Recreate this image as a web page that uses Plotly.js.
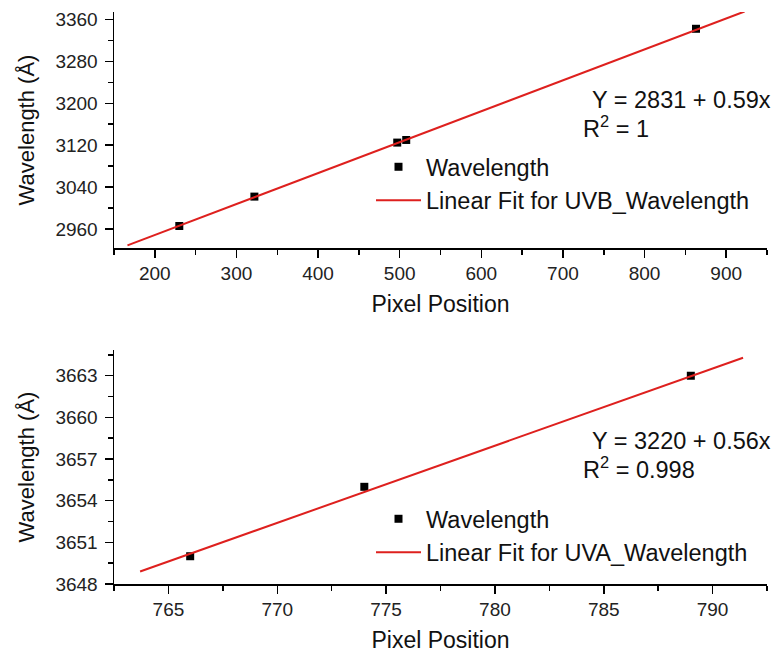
<!DOCTYPE html>
<html>
<head>
<meta charset="utf-8">
<script src="https://cdn.plot.ly/plotly-3.0.1.min.js"></script>
<style>html,body{margin:0;padding:0;background:#fff;}#chart{width:774px;height:654px;}</style>
</head>
<body>
<div id="chart"></div>
<script>
// UVB calibration (top panel)
const uvbPixel = [230, 322, 497, 508, 863];
const uvbWavelength = [2966, 3022, 3125, 3130, 3342];
const uvbFitPixel = [166.5, 922.5];
const uvbFitWavelength = [2929, 3375];

// UVA calibration (bottom panel)
const uvaPixel = [766, 774, 789];
const uvaWavelength = [3650, 3655, 3663];
const uvaFitPixel = [763.7, 791.4];
const uvaFitWavelength = [3648.9, 3664.3];

const FONT = 'Liberation Sans, Arial, sans-serif';
const RED = 'rgb(222,32,30)';

const traces = [
  {x: uvbPixel, y: uvbWavelength, type: 'scatter', mode: 'markers', name: 'Wavelength',
   marker: {symbol: 'square', size: 8, color: '#000'}, xaxis: 'x', yaxis: 'y', legend: 'legend'},
  {x: uvbFitPixel, y: uvbFitWavelength, type: 'scatter', mode: 'lines', name: 'Linear Fit for UVB_Wavelength',
   line: {color: RED, width: 2}, xaxis: 'x', yaxis: 'y', legend: 'legend'},
  {x: uvaPixel, y: uvaWavelength, type: 'scatter', mode: 'markers', name: 'Wavelength',
   marker: {symbol: 'square', size: 8, color: '#000'}, xaxis: 'x2', yaxis: 'y2', legend: 'legend2'},
  {x: uvaFitPixel, y: uvaFitWavelength, type: 'scatter', mode: 'lines', name: 'Linear Fit for UVA_Wavelength',
   line: {color: RED, width: 2}, xaxis: 'x2', yaxis: 'y2', legend: 'legend2'}
];

function xAxis(range, dtick, minorDtick, anchor) {
  return {
    range: range, dtick: dtick, tick0: 0, anchor: anchor,
    showgrid: false, zeroline: false, showline: true, linecolor: '#000', linewidth: 1.5,
    ticks: 'outside', ticklen: 8, tickwidth: 1.5, tickcolor: '#000',
    minor: {dtick: minorDtick, ticks: 'outside', ticklen: 5, tickwidth: 1.5, tickcolor: '#000', showgrid: false},
    tickfont: {family: FONT, size: 19, color: '#222'},
    title: {text: 'Pixel Position', font: {family: FONT, size: 23, color: '#111'}, standoff: 12}
  };
}
function yAxis(range, dtick, minorDtick, domain, anchor) {
  return {
    range: range, dtick: dtick, tick0: 0, domain: domain, anchor: anchor,
    showgrid: false, zeroline: false, showline: true, linecolor: '#000', linewidth: 1.5,
    ticks: 'outside', ticklen: 8, tickwidth: 1.5, tickcolor: '#000', ticklabelstandoff: 3,
    minor: {dtick: minorDtick, ticks: 'outside', ticklen: 5, tickwidth: 1.5, tickcolor: '#000', showgrid: false},
    tickfont: {family: FONT, size: 19, color: '#222'},
    title: {text: 'Wavelength (Å)', font: {family: FONT, size: 22, color: '#111'}, standoff: 14}
  };
}

const LEGFONT = {family: FONT, size: 23.5, color: '#111'};

const layout = {
  width: 774, height: 654,
  margin: {l: 114, r: 7, t: 12, b: 70},
  paper_bgcolor: '#fff', plot_bgcolor: '#fff',
  font: {family: FONT, color: '#111'},
  xaxis: xAxis([150, 950], 100, 50, 'y'),
  yaxis: yAxis([2924, 3374], 80, 40, [0.5874, 1], 'x'),
  xaxis2: xAxis([762.5, 792.5], 5, 2.5, 'y2'),
  yaxis2: yAxis([3648, 3664.85], 3, 1.5, [0, 0.409], 'x2'),
  legend: {x: (371 - 114) / 653, y: 1 - (145 - 12) / 572, xanchor: 'left', yanchor: 'top',
           bgcolor: 'rgba(0,0,0,0)', font: LEGFONT, itemwidth: 45, tracegroupgap: 0},
  legend2: {x: (371 - 114) / 653, y: 1 - (497 - 12) / 572, xanchor: 'left', yanchor: 'top',
           bgcolor: 'rgba(0,0,0,0)', font: LEGFONT, itemwidth: 45, tracegroupgap: 0},
  showlegend: true,
  annotations: [
    {xref: 'paper', yref: 'paper', x: (590 - 114) / 653, y: 1 - (100 - 12) / 572, xanchor: 'left', yanchor: 'middle',
     text: 'Y = 2831 + 0.59x', showarrow: false, font: LEGFONT},
    {xref: 'paper', yref: 'paper', x: (581 - 114) / 653, y: 1 - (127 - 12) / 572, xanchor: 'left', yanchor: 'middle',
     text: 'R<sup>2</sup> = 1', showarrow: false, font: LEGFONT},
    {xref: 'paper', yref: 'paper', x: (590 - 114) / 653, y: 1 - (441 - 12) / 572, xanchor: 'left', yanchor: 'middle',
     text: 'Y = 3220 + 0.56x', showarrow: false, font: LEGFONT},
    {xref: 'paper', yref: 'paper', x: (581 - 114) / 653, y: 1 - (468 - 12) / 572, xanchor: 'left', yanchor: 'middle',
     text: 'R<sup>2</sup> = 0.998', showarrow: false, font: LEGFONT}
  ]
};

Plotly.newPlot('chart', traces, layout, {displayModeBar: false, staticPlot: true});
</script>
</body>
</html>
